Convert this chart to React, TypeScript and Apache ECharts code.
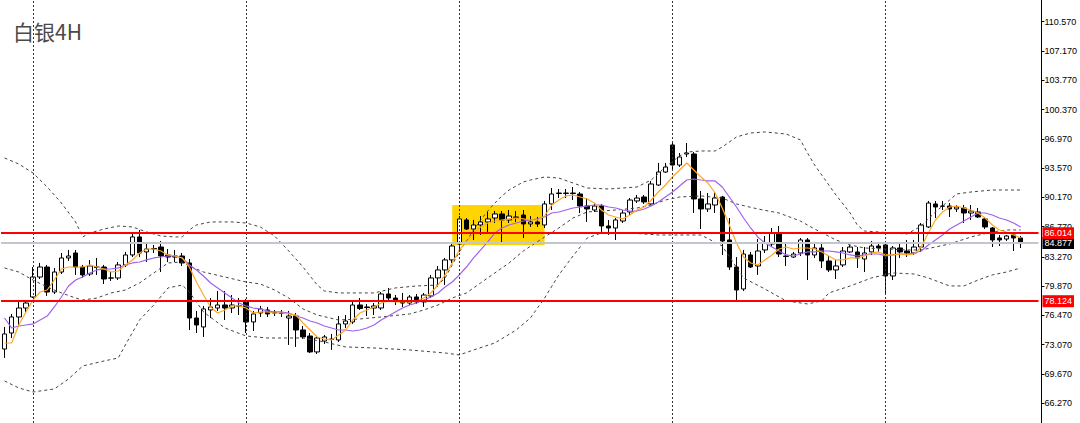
import React, { useEffect, useRef } from 'react';
import * as echarts from 'echarts';

const chartTitle = '白银4H';

// [open, close, low, high]
const candles: number[][] = [
  [72.57, 74.32, 71.53, 75.13], [74.43, 76.29, 73.85, 76.64], [76.29, 77.33, 75.36, 78.03], [77.33, 77.91, 76.87, 78.26],
  [78.61, 80.93, 78.49, 82.09], [80.93, 82.09, 80.70, 82.56], [82.09, 79.19, 78.73, 82.33], [79.19, 81.51, 78.96, 81.98],
  [81.51, 83.14, 81.28, 83.72], [83.14, 83.37, 82.79, 84.07], [83.72, 82.09, 81.17, 84.07], [82.09, 81.17, 80.82, 82.33],
  [81.28, 82.21, 81.05, 82.91], [82.09, 82.03, 81.17, 83.14], [82.09, 80.70, 80.12, 82.33], [80.82, 80.80, 80.47, 81.51],
  [80.82, 82.33, 80.58, 82.67], [82.33, 83.49, 82.09, 83.84], [83.49, 85.58, 83.25, 86.04], [85.58, 83.72, 83.25, 86.39],
  [83.84, 84.18, 82.67, 84.88], [84.18, 84.24, 83.72, 84.65], [84.41, 83.37, 81.51, 85.11], [83.49, 83.25, 82.67, 84.18],
  [83.37, 83.25, 82.67, 84.07], [83.37, 82.56, 82.21, 83.72], [82.56, 76.17, 74.78, 83.02], [76.17, 75.36, 74.43, 76.99],
  [75.13, 77.22, 73.97, 77.57], [77.10, 77.45, 76.17, 78.49], [77.33, 77.68, 76.99, 79.31], [77.68, 77.33, 75.94, 79.31],
  [77.33, 77.68, 76.75, 78.84], [77.57, 77.55, 76.52, 78.49], [78.03, 75.71, 74.43, 78.38], [75.71, 76.64, 74.66, 76.99],
  [76.75, 77.22, 76.29, 77.57], [77.10, 76.64, 76.29, 77.45], [76.81, 76.75, 76.40, 77.10], [76.75, 76.70, 76.29, 77.10],
  [76.17, 76.40, 73.04, 76.99], [76.40, 74.78, 72.81, 76.75], [74.78, 73.97, 73.73, 75.24], [74.08, 72.23, 72.11, 74.43],
  [72.23, 73.85, 71.99, 74.08], [73.50, 73.97, 73.15, 74.20], [73.73, 73.68, 72.46, 74.32], [73.62, 75.48, 73.39, 76.40],
  [75.48, 75.82, 75.01, 76.52], [75.71, 77.68, 75.48, 78.15], [77.68, 77.27, 77.10, 78.49], [77.45, 77.39, 76.40, 77.80],
  [77.33, 77.57, 76.52, 77.91], [77.33, 78.96, 77.10, 79.19], [78.96, 78.49, 78.26, 79.66], [78.49, 78.15, 77.68, 78.84],
  [78.15, 77.91, 77.45, 79.08], [77.91, 78.61, 77.68, 78.84], [78.61, 78.03, 77.80, 78.96], [78.03, 78.84, 77.45, 79.08],
  [78.73, 80.82, 78.49, 81.17], [80.82, 81.75, 79.77, 82.21], [81.75, 82.91, 80.00, 83.14], [82.91, 84.53, 82.56, 84.88],
  [84.76, 87.67, 83.84, 88.01], [87.55, 86.50, 86.39, 87.78], [86.50, 86.97, 85.23, 87.55], [86.97, 87.32, 85.81, 88.01],
  [87.32, 87.67, 86.16, 88.48], [87.78, 88.25, 87.20, 88.59], [88.25, 87.55, 84.88, 88.59], [87.55, 88.01, 87.20, 88.71],
  [87.90, 87.84, 87.32, 88.59], [88.13, 87.09, 85.46, 88.71], [87.09, 87.32, 86.74, 88.01], [87.32, 87.09, 86.74, 87.90],
  [86.97, 89.41, 86.62, 89.76], [89.41, 90.57, 88.71, 91.26], [90.68, 90.63, 90.10, 91.15], [90.63, 90.68, 90.10, 91.15],
  [90.68, 90.63, 89.87, 91.38], [90.57, 89.17, 88.36, 90.80], [89.17, 88.83, 87.32, 90.10], [88.71, 89.17, 88.48, 89.52],
  [89.17, 86.85, 86.16, 89.41], [86.85, 86.62, 85.81, 87.55], [86.62, 87.55, 85.23, 87.78], [87.43, 88.36, 87.20, 88.71],
  [88.48, 89.87, 88.13, 90.10], [89.76, 90.10, 89.52, 90.45], [90.22, 89.64, 89.41, 90.45], [89.41, 91.73, 89.29, 92.08],
  [91.61, 93.12, 91.50, 94.17], [93.12, 93.70, 93.01, 94.17], [96.26, 93.93, 93.35, 96.60], [93.93, 94.86, 93.70, 95.33],
  [95.21, 95.33, 94.86, 96.49], [95.21, 89.99, 88.36, 95.44], [89.99, 88.83, 86.50, 90.92], [88.83, 89.41, 88.48, 90.68],
  [89.29, 90.10, 88.36, 90.80], [90.22, 85.11, 83.49, 90.34], [85.23, 82.09, 81.75, 87.78], [82.09, 79.42, 78.03, 83.25],
  [79.54, 83.60, 79.31, 84.07], [83.49, 82.09, 81.98, 83.84], [82.21, 83.95, 81.17, 85.34], [84.07, 84.88, 83.72, 85.69],
  [84.76, 86.04, 84.41, 86.62], [86.04, 83.60, 83.25, 86.85], [83.37, 83.31, 82.21, 84.88], [83.25, 83.60, 83.14, 83.84],
  [83.72, 85.23, 83.37, 85.46], [85.23, 83.49, 80.58, 85.46], [83.49, 84.30, 83.14, 85.00], [84.30, 82.79, 81.98, 84.88],
  [82.79, 81.75, 81.51, 83.37], [81.75, 82.21, 80.70, 82.91], [82.33, 83.95, 82.09, 84.41], [83.84, 84.41, 83.72, 84.65],
  [83.84, 83.14, 81.98, 84.41], [83.02, 83.72, 81.51, 84.41], [83.84, 84.53, 83.49, 85.11], [84.53, 84.30, 83.84, 85.00],
  [84.65, 81.05, 78.84, 85.00], [81.05, 84.30, 80.58, 84.53], [84.30, 83.84, 83.14, 84.88], [83.95, 83.72, 83.25, 85.23],
  [83.72, 84.41, 83.49, 85.23], [84.41, 86.97, 83.84, 87.20], [86.74, 89.52, 86.62, 89.76], [89.41, 89.06, 87.78, 89.76],
  [89.17, 89.15, 88.71, 89.76], [89.17, 88.83, 87.90, 89.52], [88.83, 89.06, 88.48, 89.29], [88.94, 88.36, 87.20, 89.29],
  [88.36, 88.59, 87.55, 89.29], [88.48, 87.90, 87.78, 88.94], [87.67, 86.74, 86.50, 87.90], [86.62, 85.23, 84.41, 86.74],
  [85.46, 85.23, 84.53, 85.81], [85.34, 85.69, 85.11, 85.81], [85.81, 85.46, 83.95, 86.04], [85.46, 84.88, 84.30, 85.69],
];

const maFast = [
  73.27, 73.27, 75.36, 76.87, 78.26, 79.19, 79.42, 80.58, 81.86, 82.09, 82.09, 82.09, 82.33, 82.09, 81.86, 81.51,
  81.63, 82.33, 82.91, 83.72, 84.18, 84.18, 83.95, 83.49, 83.37, 83.14, 82.09, 80.35, 78.84, 77.45, 76.75, 77.10,
  77.57, 77.57, 77.33, 76.75, 76.87, 76.87, 76.75, 76.75, 76.64, 76.52, 75.59, 74.78, 73.97, 73.73, 73.62, 74.20,
  74.78, 75.94, 76.75, 77.10, 77.45, 77.91, 78.15, 78.03, 78.03, 78.03, 78.15, 78.49, 79.08, 80.00, 81.17, 82.56,
  84.07, 85.00, 86.04, 86.74, 87.20, 87.43, 87.55, 87.67, 87.78, 87.67, 87.55, 87.55, 88.01, 89.29, 89.87, 90.34,
  90.45, 90.22, 89.99, 89.52, 88.71, 88.13, 87.90, 87.67, 88.13, 88.71, 89.06, 89.87, 90.80, 91.61, 92.54, 93.35,
  94.17, 93.35, 92.54, 91.84, 90.68, 88.94, 86.97, 84.88, 83.25, 82.56, 82.33, 82.91, 83.49, 84.18, 84.41, 84.18,
  84.30, 84.30, 84.18, 83.84, 83.37, 82.91, 82.91, 83.14, 83.14, 83.37, 83.72, 83.84, 83.49, 83.49, 83.60, 83.49,
  83.60, 84.41, 86.04, 87.55, 88.48, 89.06, 89.17, 88.94, 88.71, 88.36, 87.78, 86.97, 86.39, 86.16, 85.81, 85.46,
];

const maSlow = [
  76.17, 75.01, 75.24, 75.36, 75.48, 75.94, 76.40, 77.45, 78.61, 79.89, 80.58, 80.93, 81.40, 81.75, 81.86, 81.86,
  81.98, 82.33, 82.56, 82.67, 82.91, 83.14, 83.25, 83.37, 83.37, 83.14, 82.33, 81.75, 81.05, 80.24, 79.66, 79.08,
  78.49, 77.91, 77.57, 77.33, 77.22, 76.99, 76.87, 76.87, 76.75, 76.40, 76.17, 75.82, 75.59, 75.24, 75.01, 74.78,
  74.78, 74.66, 74.78, 75.01, 75.36, 75.94, 76.40, 76.87, 77.33, 77.68, 77.91, 78.26, 78.61, 79.08, 79.77, 80.35,
  81.17, 82.09, 83.14, 84.07, 85.00, 86.04, 86.62, 86.97, 87.20, 87.43, 87.55, 87.67, 87.90, 88.36, 88.48, 88.71,
  88.94, 89.06, 89.17, 89.29, 89.29, 89.06, 88.94, 88.71, 88.59, 88.59, 88.83, 89.17, 89.64, 90.22, 90.80, 91.50,
  92.19, 92.31, 92.19, 92.08, 92.08, 91.38, 90.22, 89.06, 87.78, 86.62, 85.58, 84.88, 84.41, 83.95, 83.49, 83.37,
  83.60, 83.84, 83.84, 83.95, 83.95, 83.84, 83.72, 83.49, 83.37, 83.49, 83.60, 83.60, 83.37, 83.49, 83.60, 83.60,
  83.72, 83.95, 84.65, 85.23, 85.81, 86.50, 86.97, 87.43, 87.90, 88.36, 88.36, 88.13, 87.78, 87.55, 87.20, 86.74,
];

// [bar index, value]
const bbUpper = [
  [0, 94.75], [2, 94.05], [4, 93.01], [6, 91.38], [8, 89.52], [10, 87.32], [11, 85.58], [12, 86.04], [14, 86.50],
  [16, 86.85], [18, 86.74], [20, 86.16], [22, 85.69], [24, 85.58], [25, 85.58], [26, 86.39], [27, 86.97], [29, 87.32],
  [32, 87.32], [34, 87.20], [36, 86.74], [38, 85.69], [40, 83.95], [42, 82.09], [44, 80.00], [45, 79.31], [47, 79.08],
  [52, 79.08], [55, 79.66], [58, 79.89], [61, 80.00], [62, 80.82], [63, 82.33], [64, 83.84], [65, 85.11], [66, 86.39],
  [67, 87.55], [68, 88.59], [69, 89.52], [70, 90.34], [71, 91.03], [72, 91.50], [73, 91.96], [74, 92.19], [76, 92.54],
  [78, 92.42], [80, 91.84], [82, 91.26], [85, 91.15], [89, 91.38], [91, 92.19], [93, 93.70], [95, 94.98], [96, 95.44],
  [98, 95.56], [100, 95.56], [101, 96.02], [103, 97.19], [105, 97.65], [107, 97.77], [110, 97.53], [112, 96.84],
  [113, 95.33], [114, 93.93], [115, 92.77], [117, 90.45], [119, 88.36], [120, 86.97], [121, 86.27], [123, 86.16],
  [127, 85.92], [129, 86.85], [131, 88.48], [133, 89.87], [134, 90.57], [136, 90.80], [139, 91.03], [143, 91.03],
];

const bbMiddle = [
  [0, 81.98], [2, 81.51], [4, 80.58], [6, 79.77], [8, 79.08], [10, 78.49], [11, 78.26], [13, 78.49], [15, 79.08],
  [17, 79.42], [19, 80.24], [21, 81.40], [23, 82.56], [25, 82.67], [26, 82.21], [28, 81.51], [31, 80.93], [34, 80.35],
  [36, 80.12], [38, 79.42], [40, 78.49], [42, 77.22], [44, 76.52], [47, 75.94], [50, 76.06], [53, 76.29], [57, 76.64],
  [59, 77.10], [61, 77.68], [63, 78.49], [65, 79.08], [67, 80.24], [69, 81.40], [71, 82.56], [73, 83.95], [76, 85.58],
  [78, 86.62], [80, 87.78], [82, 88.48], [84, 88.59], [86, 88.71], [89, 88.94], [91, 89.29], [93, 89.87], [95, 90.22],
  [98, 90.34], [101, 90.10], [103, 89.41], [106, 88.83], [109, 88.36], [112, 87.43], [114, 86.50], [117, 85.23],
  [119, 84.65], [121, 84.30], [124, 84.18], [127, 84.07], [129, 84.07], [133, 84.76], [136, 85.58], [139, 86.16],
  [141, 86.39], [143, 86.39],
];

const bbLower = [
  [0, 68.86], [2, 68.05], [4, 67.58], [7, 67.93], [9, 69.09], [11, 70.60], [14, 71.18], [16, 71.53], [17, 73.04],
  [19, 75.94], [21, 77.68], [23, 79.66], [25, 80.00], [26, 79.19], [28, 76.87], [31, 75.01], [34, 74.08], [37, 73.85],
  [42, 73.85], [45, 73.39], [48, 72.81], [52, 72.69], [57, 72.46], [62, 72.11], [64, 71.88], [66, 72.46], [69, 73.27],
  [72, 74.78], [74, 76.17], [76, 78.49], [78, 81.17], [80, 83.37], [82, 85.46], [84, 86.04], [88, 86.04], [92, 85.81],
  [95, 85.81], [98, 85.81], [101, 84.53], [104, 80.82], [107, 79.54], [110, 78.15], [113, 77.80], [115, 78.15],
  [116, 79.08], [119, 79.89], [122, 80.82], [125, 81.40], [128, 81.28], [130, 80.82], [133, 79.89], [135, 79.89],
  [137, 80.58], [139, 81.17], [141, 81.51], [143, 81.98],
];

const resistanceLevel = 86.014;
const supportLevel = 78.124;
const lastPrice = 84.877;
const weekStartBars = [4, 34, 64, 94, 124];
const boxBars = [63, 76];
const boxPrices = [89.29, 84.65];
const yTickValues = [66.27, 69.67, 73.07, 76.47, 79.87, 83.27, 86.77, 90.17, 93.57, 96.97, 100.37, 103.77, 107.17, 110.57];
const emptyBarsRight = 2;

const categories = [...candles.map((_, i) => String(i)), ...Array.from({ length: emptyBarsRight }, (_, i) => 'pad' + i)];

const AXIS_FONT = 'Liberation Sans, Arial, sans-serif';

function levelLine(value: number, bg: string, lineColor: string) {
  return {
    yAxis: value,
    lineStyle: { color: lineColor, width: 2, type: 'solid' as const },
    label: {
      show: true,
      position: 'end' as const,
      distance: 4,
      formatter: value.toFixed(3),
      color: '#fff',
      backgroundColor: bg,
      padding: [2, 2, 1, 2],
      fontSize: 9,
      fontFamily: AXIS_FONT,
    },
  };
}

export default function App() {
  const ref = useRef<HTMLDivElement>(null);
  useEffect(() => {
    if (!ref.current) return;
    const chart = echarts.init(ref.current, undefined, { renderer: 'svg' });
    const option: any = {
      animation: false,
      backgroundColor: '#ffffff',
      title: {
        text: chartTitle,
        left: 8,
        top: 15,
        textStyle: { fontSize: 21, color: '#4a4a4a', fontWeight: 'normal', fontFamily: 'Noto Sans CJK SC' },
      },
      tooltip: { show: false },
      grid: { left: 1, right: 41.2, top: 0, bottom: 0 },
      xAxis: {
        type: 'category',
        data: categories,
        boundaryGap: true,
        show: false,
      },
      yAxis: {
        type: 'value',
        position: 'right',
        offset: 3,
        min: 63.98,
        max: 113.09,
        splitLine: { show: false },
        axisLine: { show: true, lineStyle: { color: '#000', width: 1 } },
        axisTick: { show: true, length: 3, customValues: yTickValues, lineStyle: { color: '#000' } },
        axisLabel: {
          customValues: yTickValues,
          formatter: (v: number) => v.toFixed(3),
          color: '#000',
          fontSize: 9,
          margin: 3,
          fontFamily: AXIS_FONT,
        },
      },
      series: [
        {
          type: 'candlestick',
          name: 'price',
          z: 3,
          data: candles,
          barWidth: 5,
          itemStyle: {
            color: '#ffffff',
            color0: '#000000',
            borderColor: '#000000',
            borderColor0: '#000000',
            borderWidth: 1,
          },
          markArea: {
            silent: true,
            itemStyle: { color: '#FFD400', opacity: 1 },
            data: [[{ xAxis: boxBars[0], yAxis: boxPrices[0] }, { xAxis: boxBars[1], yAxis: boxPrices[1] }]],
          },
          markLine: {
            silent: true,
            symbol: ['none', 'none'],
            animation: false,
            data: [
              ...weekStartBars.map((b) => ({
                xAxis: b,
                lineStyle: { color: '#333', width: 1, type: [2, 2] },
                label: { show: false },
              })),
              levelLine(lastPrice, '#000000', '#c3c6cc'),
              levelLine(resistanceLevel, '#ff0000', '#ff0000'),
              levelLine(supportLevel, '#ff0000', '#ff0000'),
            ],
          },
        },
        {
          type: 'line',
          name: 'bbUpper',
          z: 4,
          data: bbUpper,
          symbol: 'none',
          lineStyle: { color: '#444', width: 1, type: [3, 3] },
        },
        {
          type: 'line',
          name: 'bbMiddle',
          z: 4,
          data: bbMiddle,
          symbol: 'none',
          lineStyle: { color: '#444', width: 1, type: [3, 3] },
        },
        {
          type: 'line',
          name: 'bbLower',
          z: 4,
          data: bbLower,
          symbol: 'none',
          lineStyle: { color: '#444', width: 1, type: [3, 3] },
        },
        {
          type: 'line',
          name: 'maSlow',
          z: 4,
          data: maSlow,
          symbol: 'none',
          lineStyle: { color: '#a060f0', width: 1.2 },
        },
        {
          type: 'line',
          name: 'maFast',
          z: 4,
          data: maFast,
          symbol: 'none',
          lineStyle: { color: '#ffa726', width: 1.2 },
        },
      ],
    };
    chart.setOption(option);
    return () => chart.dispose();
  }, []);
  return (
    <div
      ref={ref}
      style={{ position: 'absolute', left: 0, top: 0, width: 1080, height: 423, background: '#fff' }}
    />
  );
}
